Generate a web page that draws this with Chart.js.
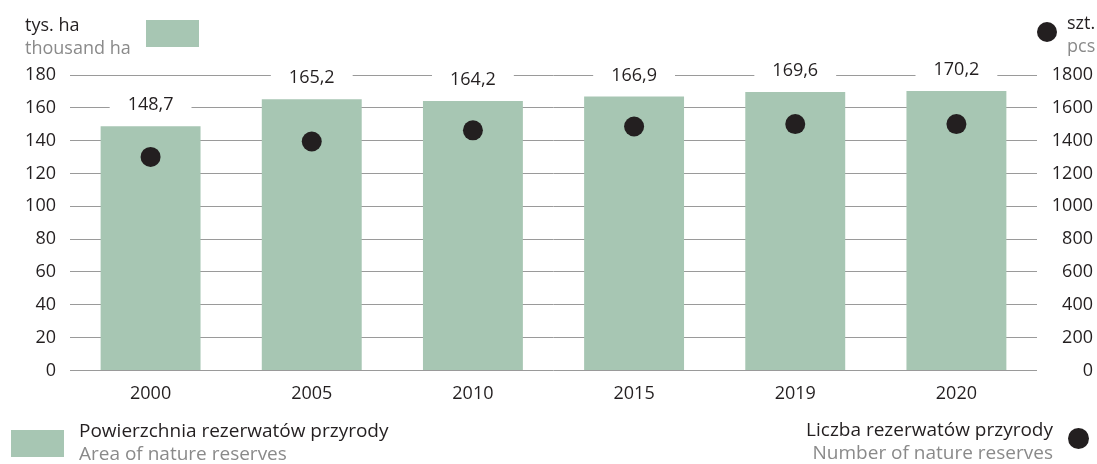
<!DOCTYPE html>
<html>
<head>
<meta charset="utf-8">
<script src="https://cdn.jsdelivr.net/npm/chart.js@4"></script>
<style>
  html, body { margin: 0; padding: 0; background: #fff; }
  #wrap { position: relative; width: 1097px; height: 464px; font-family: 'Open Sans', sans-serif; }
  canvas { position: absolute; left: 0; top: 0; }
  .t { position: absolute; font-size: 18px; line-height: 18px; white-space: nowrap; color: #231f20; }
  .l { font-size: 19px; line-height: 19px; }
  .g { color: #8a8a8a; }
  .sw { position: absolute; background: #a7c6b3; }
  .dot { position: absolute; background: #231f20; border-radius: 50%; }
</style>
</head>
<body>
<div id="wrap">
  <canvas id="c" width="1097" height="464"></canvas>
  <div class="t" style="left:25px;top:15px;">tys. ha</div>
  <div class="t g" style="left:25px;top:38px;">thousand ha</div>
  <div class="sw" style="left:146px;top:20px;width:53px;height:27px;"></div>
  <div class="dot" style="left:1037px;top:22px;width:20px;height:20px;"></div>
  <div class="t" style="left:1067px;top:13px;">szt.</div>
  <div class="t g" style="left:1067px;top:36px;">pcs</div>

  <div class="sw" style="left:11px;top:430px;width:53px;height:27px;"></div>
  <div class="t l" style="left:79px;top:421px;">Powierzchnia rezerwatów przyrody</div>
  <div class="t l g" style="left:79px;top:444px;">Area of nature reserves</div>
  <div class="t l" style="right:44px;top:420px;text-align:right;">Liczba rezerwatów przyrody</div>
  <div class="t l g" style="right:44px;top:443px;text-align:right;">Number of nature reserves</div>
  <div class="dot" style="left:1068px;top:428px;width:21px;height:21px;"></div>
</div>
<script>
const years = ['2000', '2005', '2010', '2015', '2019', '2020'];
const areaThousandHa = [148.7, 165.2, 164.2, 166.9, 169.6, 170.2];
const reserveCount = [1301, 1395, 1463, 1486, 1501, 1501];
const leftTicks = [0, 20, 40, 60, 80, 100, 120, 140, 160, 180];
const rightTicks = [0, 200, 400, 600, 800, 1000, 1200, 1400, 1600, 1800];

const FONT = "'Open Sans', sans-serif";

const barLabels = {
  id: 'barLabels',
  afterDatasetsDraw(chart) {
    const ctx = chart.ctx;
    const meta = chart.getDatasetMeta(0);
    ctx.save();
    ctx.font = '18px ' + FONT;
    ctx.textAlign = 'center';
    ctx.textBaseline = 'middle';
    meta.data.forEach((el, i) => {
      const txt = areaThousandHa[i].toFixed(1).replace('.', ',');
      const w = ctx.measureText(txt).width + 36;
      const y = el.y - 21;
      ctx.fillStyle = '#ffffff';
      ctx.fillRect(el.x - w / 2, y - 9, w, 18);
      ctx.fillStyle = '#231f20';
      ctx.fillText(txt, el.x, y);
    });
    ctx.restore();
  }
};

new Chart(document.getElementById('c'), {
  data: {
    labels: years,
    datasets: [
      {
        type: 'bar',
        data: areaThousandHa,
        backgroundColor: '#a7c6b3',
        borderWidth: 0,
        yAxisID: 'y',
        categoryPercentage: 0.62,
        barPercentage: 1,
        order: 2
      },
      {
        type: 'line',
        data: reserveCount,
        showLine: false,
        pointRadius: 10,
        pointHoverRadius: 10,
        pointBackgroundColor: '#231f20',
        pointBorderWidth: 0,
        yAxisID: 'y2',
        order: 1
      }
    ]
  },
  options: {
    responsive: false,
    animation: false,
    events: [],
    layout: { padding: { left: 25, right: 4, top: 75, bottom: 54 } },
    plugins: { legend: { display: false }, tooltip: { enabled: false } },
    scales: {
      x: {
        type: 'category',
        grid: { display: false },
        border: { display: false },
        ticks: { color: '#231f20', font: { family: FONT, size: 18 }, padding: 5, maxRotation: 0 }
      },
      y: {
        position: 'left',
        min: 0, max: 180,
        afterBuildTicks: (s) => { s.ticks = leftTicks.map(v => ({ value: v })); },
        afterFit: (s) => { s.width = 45; },
        grid: { color: '#9a9a9a', lineWidth: 1, drawTicks: false },
        border: { display: false },
        ticks: { color: '#231f20', font: { family: FONT, size: 18 }, padding: 14, callback: (v) => String(v) }
      },
      y2: {
        position: 'right',
        min: 0, max: 1800,
        afterBuildTicks: (s) => { s.ticks = rightTicks.map(v => ({ value: v })); },
        afterFit: (s) => { s.width = 56; },
        grid: { display: false, drawTicks: false },
        border: { display: false },
        ticks: { color: '#231f20', font: { family: FONT, size: 18 }, padding: 14, crossAlign: 'far', callback: (v) => String(v) }
      }
    }
  },
  plugins: [barLabels]
});
</script>
</body>
</html>
